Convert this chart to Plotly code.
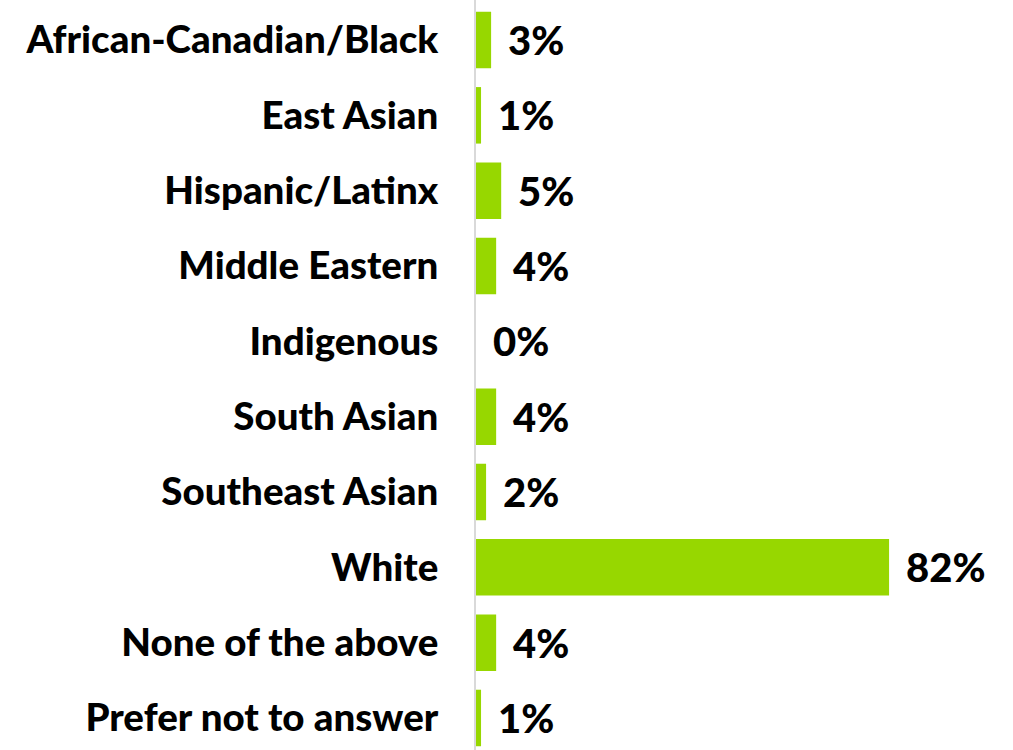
import plotly.graph_objects as go

categories = [
    "African-Canadian/Black",
    "East Asian",
    "Hispanic/Latinx",
    "Middle Eastern",
    "Indigenous",
    "South Asian",
    "Southeast Asian",
    "White",
    "None of the above",
    "Prefer not to answer",
]
values = [3, 1, 5, 4, 0, 4, 2, 82, 4, 1]
value_labels = ["3%", "1%", "5%", "4%", "0%", "4%", "2%", "82%", "4%", "1%"]

BAR_COLOR = "#97d700"
FONT = "Lato"

fig = go.Figure(
    go.Bar(
        x=values,
        y=categories,
        orientation="h",
        marker=dict(color=BAR_COLOR, line=dict(width=0)),
        width=0.75,
        hoverinfo="skip",
    )
)

for cat, val, lab in zip(categories, values, value_labels):
    fig.add_annotation(
        x=val,
        y=cat,
        text=lab,
        showarrow=False,
        xanchor="left",
        xshift=15,
        yshift=0,
        font=dict(family=FONT, size=40, color="#000000", weight=900),
    )

fig.update_layout(
    width=1013,
    height=750,
    margin=dict(l=476, r=0, t=0, b=0),
    paper_bgcolor="white",
    plot_bgcolor="white",
    showlegend=False,
    bargap=0.25,
)

fig.update_xaxes(
    range=[0, 106.6],
    showgrid=False,
    zeroline=False,
    showticklabels=False,
    showline=False,
)

fig.update_yaxes(
    type="category",
    range=[9.425, -0.531],
    showgrid=False,
    zeroline=False,
    showline=True,
    linecolor="#d9d9d9",
    linewidth=2,
    ticks="",
    ticklabelstandoff=28,
    tickfont=dict(family=FONT, size=38.5, color="#000000", weight=900),
)

fig.write_html("out.html")
